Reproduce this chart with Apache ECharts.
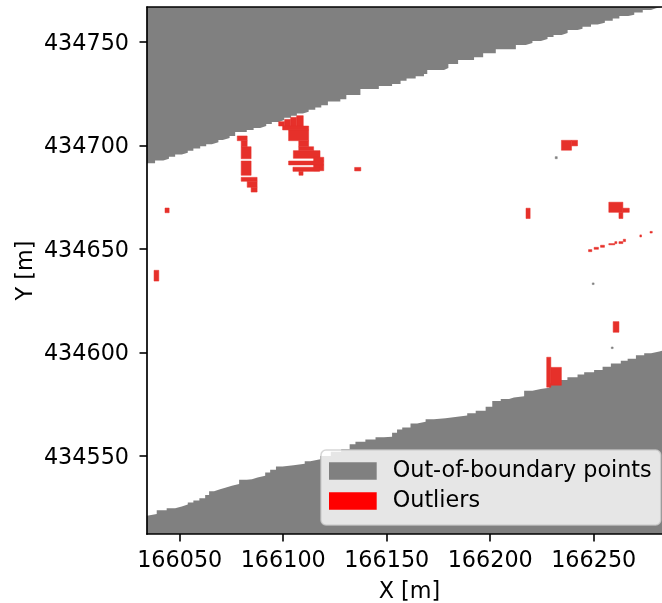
<!DOCTYPE html>
<html>
<head>
<meta charset="utf-8">
<style>html,body{margin:0;padding:0;background:#fff}#c{width:662px;height:603px}</style>
<script src="https://cdn.jsdelivr.net/npm/echarts@6/dist/echarts.min.js"></script>
</head>
<body>
<div id="c"></div>
<script>
const xTicks = [166050, 166100, 166150, 166200, 166250];
const yTicks = [434550, 434600, 434650, 434700, 434750];
const xRange = [166034.2, 166283];
const yRange = [434512.3, 434766.9];

// Edge of the upper out-of-boundary region [X, Y]
const upperEdge = [
[166034.2,434689.5],[166038.1,434691.4],[166042.1,434692.7],[166044.8,434693.6],[166047.8,434694.6],[166051,434695.6],
[166053.9,434696.5],[166056.6,434697.5],[166059.9,434698.6],[166062.8,434699.6],[166065.5,434700.6],[166068.7,434701.5],
[166070.8,434702.7],[166074.1,434703.6],[166076.8,434704.6],[166082.4,434706.5],[166085.7,434707.5],[166088.9,434708.5],
[166091.8,434709.4],[166094.5,434710.4],[166097.8,434711.4],[166100.5,434712.3],[166103.8,434713.4],[166106.6,434714.4],
[166109.5,434715.4],[166112.3,434716.3],[166115.5,434717.3],[166118.4,434718.3],[166121.6,434719.4],[166127.6,434721.3],
[166130.5,434722.3],[166137.3,434724.4],[166146.2,434727.3],[166152.6,434728.7],[166156.7,434729.7],[166159.6,434731.3],
[166164,434732.3],[166168,434733.4],[166169.6,434734.5],[166177.7,434736.5],[166179.8,434737.4],[166184.5,434739.4],
[166192.2,434741.3],[166196.6,434742.6],[166202.7,434744.5],[166212.4,434746.5],[166217.2,434748.6],[166220.4,434749.5],
[166224.5,434750.5],[166227.7,434751.4],[166230.6,434752.4],[166234.5,434753.4],[166237.4,434754.3],[166242.2,434755.8],
[166244.6,434756.4],[166248.7,434757.4],[166251.9,434758.4],[166255.4,434759.3],[166259.2,434760.3],[166262.4,434761.3],
[166266.7,434762.6],[166269.6,434763.2],[166273.7,434764.2],[166277.7,434765.5],[166280.1,434766.3],[166283,434766.9]
];

// Edge of the lower out-of-boundary region [X, Y]
const lowerEdge = [
[166034.2,434521.1],[166038.9,434522],[166043.7,434523.8],[166047.8,434524.8],[166051,434525.6],[166053.9,434526.5],
[166056.6,434527.5],[166059.5,434528.5],[166062.3,434529.6],[166064.2,434531.2],[166066.6,434533],[166069.5,434533.9],
[166072,434534.7],[166075.2,434535.6],[166078.7,434536.5],[166082.4,434538.5],[166084.9,434538.8],[166087.6,434539.6],
[166091.3,434540.5],[166093.7,434542],[166096.5,434543.3],[166099.7,434544.9],[166105,434545.5],[166110.4,434546.2],
[166113.1,434547.5],[166117.9,434548.4],[166123,434550],[166128,434552],[166132.1,434553.3],[166134.9,434555.6],
[166139.7,434556.9],[166144.6,434558],[166148.6,434559],[166152.6,434559.3],[166155,434561.2],[166157.5,434562.8],
[166161.5,434563.8],[166164.7,434565.7],[166168.8,434566.5],[166172.8,434567.7],[166178.4,434568.2],[166184.1,434569],
[166188.9,434569.6],[166193,434570.6],[166197.8,434571.9],[166201,434573.8],[166205.1,434576.5],[166209.1,434577.5],
[166211.5,434578.3],[166216.4,434578.9],[166220.4,434581.5],[166224.4,434582.3],[166228.5,434583],[166234.1,434585.1],
[166237.3,434586.7],[166242.2,434588],[166245.4,434589.4],[166250.2,434590.5],[166254.3,434591.5],[166258.3,434593.1],
[166263.1,434594.7],[166266.4,434596],[166270.4,434597],[166274.4,434598.6],[166277.7,434599.6],[166281.7,434600.5],[166283,434600.8]
];

// Isolated out-of-boundary cells [X0, X1, Y0, Y1]
const boundaryCells = [
[166231.4,166232.4,434693.6,434694.6],
[166249.3,166250.2,434632.8,434633.6],
[166258.5,166259.4,434601.85,434602.66]
];

// Outlier cells [X0, X1, Y0, Y1]
const outlierCells = [
[166077.8,166082.6,434702.3,434704.6],[166079.7,166082.6,434699.4,434702.3],[166079.7,166084.5,434693.6,434699.4],
[166079.7,166084.5,434685.6,434692.5],[166079.7,166087.4,434682.7,434684.6],[166082.6,166087.4,434679.8,434682.7],
[166084.5,166087.4,434677.5,434679.8],
[166106.5,166109.7,434709.4,434714.4],[166103.6,166106.5,434709.4,434713.6],[166100.7,166103.6,434709.4,434712.6],
[166097.8,166100.7,434709.4,434711.5],[166099.7,166112.3,434707.5,434709.4],[166102.6,166112.3,434702.3,434707.5],
[166107.5,166112.3,434699.4,434702.3],[166107.5,166114.7,434697.5,434699.4],[166104.9,166117.8,434693.8,434697.5],
[166114.7,166119.6,434692.5,434694.3],[166102.6,166119.6,434690.6,434692.5],[166114.7,166119.6,434687.8,434690.6],
[166104.7,166117.6,434687.5,434689.5],[166107.6,166109.6,434685.6,434687.5],[166134.5,166137.5,434687.7,434689.4],
[166042.9,166044.9,434667.5,434669.8],[166037.6,166039.9,434634.5,434639.7],
[166234.4,166239.3,434697.7,434702.5],[166239.3,166242.2,434699.8,434702.5],
[166217.3,166219.3,434664.7,434669.7],
[166257.3,166264.1,434667.7,434672.6],[166264.1,166267.2,434667.7,434669.7],[166262.2,166264.1,434664.7,434667.7],
[166247.5,166249.1,434648.7,434649.7],[166250.2,166252.3,434649.85,434650.8],[166253.3,166255.2,434650.8,434651.8],
[166257.3,166260.2,434652,434652.6],[166260.2,166261.2,434652.6,434653.55],[166262.2,166264.1,434652.6,434653.55],
[166264.3,166265.4,434653.55,434654.7],[166272.3,166273.1,434655.8,434656.8],[166277.2,166278.3,434657.7,434658.5],
[166259.4,166262.2,434609.75,434614.9],
[166227.3,166229.3,434583.2,434597.7],[166229.3,166234.4,434584.15,434592.8]
];

const boundaryName = 'Out-of-boundary points';
const outlierName = 'Outliers';
const GREY = '#808080', RED = '#e6302a', FONT = '"DejaVu Sans"';

const cellSeries = (name, data, color, z) => ({
  type: 'custom', name, data, z, silent: true, clip: true, itemStyle: {color},
  encode: {x: [0, 1], y: [2, 3]},
  renderItem: (p, api) => {
    const a = api.coord([api.value(0), api.value(3)]);
    const b = api.coord([api.value(1), api.value(2)]);
    return {type: 'rect', shape: {x: a[0], y: a[1], width: b[0] - a[0], height: b[1] - a[1]},
      style: {fill: color, stroke: color, lineWidth: 0.5}};
  }
});
const edgeSeries = (data, origin) => ({
  type: 'line', name: boundaryName, data, step: 'start', symbol: 'none', silent: true, z: 2,
  itemStyle: {color: GREY}, lineStyle: {width: 0, color: GREY},
  areaStyle: {color: GREY, opacity: 1, origin}
});
const spine = {show: true, onZero: false, lineStyle: {color: '#000', width: 1.7}};

const chart = echarts.init(document.getElementById('c'), null, {renderer: 'canvas'});
chart.setOption({
  animation: false,
  backgroundColor: '#fff',
  textStyle: {fontFamily: FONT},
  grid: {left: 147, right: 0, top: 7, bottom: 69, containLabel: false, outerBoundsMode: 'none'},
  xAxis: [{
    type: 'value', min: xRange[0], max: xRange[1], z: 10,
    name: 'X [m]', nameLocation: 'middle', nameGap: 47, nameMoveOverlap: false,
    nameTextStyle: {fontSize: 22.3, color: '#000', fontFamily: FONT, padding: [0, 0, 0, 10]},
    splitLine: {show: false}, axisLine: spine,
    axisTick: {show: true, length: 7.5, lineStyle: {color: '#000', width: 1.6}, customValues: xTicks},
    axisLabel: {show: true, fontSize: 22.3, color: '#000', fontFamily: FONT, margin: 16, customValues: xTicks, formatter: v => String(v)}
  }, {
    type: 'value', position: 'top', min: xRange[0], max: xRange[1], z: 10,
    splitLine: {show: false}, axisLine: spine, axisTick: {show: false}, axisLabel: {show: false}
  }],
  yAxis: {
    type: 'value', min: yRange[0], max: yRange[1], z: 10,
    name: 'Y [m]', nameLocation: 'middle', nameGap: 110, nameMoveOverlap: false,
    nameTextStyle: {fontSize: 22.3, color: '#000', fontFamily: FONT},
    splitLine: {show: false}, axisLine: spine,
    axisTick: {show: true, length: 7.5, lineStyle: {color: '#000', width: 1.6}, customValues: yTicks},
    axisLabel: {show: true, fontSize: 22.3, color: '#000', fontFamily: FONT, margin: 18, verticalAlign: 'top', lineHeight: 4, customValues: yTicks, formatter: v => String(v)}
  },
  legend: {
    show: true, orient: 'vertical', left: 321, top: 450,
    padding: [10, 9, 13, 8], itemWidth: 47.7, itemHeight: 17.3, itemGap: 8,
    backgroundColor: 'rgba(255,255,255,0.8)', borderColor: 'rgba(204,204,204,0.8)', borderWidth: 1.5, borderRadius: 5,
    selectedMode: false,
    textStyle: {fontSize: 22.3, color: '#000', fontFamily: FONT, lineHeight: 17, padding: [0, 0, 0, 11]},
    data: [
      {name: boundaryName, icon: 'rect', itemStyle: {color: GREY}},
      {name: outlierName, icon: 'rect', itemStyle: {color: '#ff0000'}}
    ]
  },
  series: [
    edgeSeries(upperEdge, 'end'),
    edgeSeries(lowerEdge, 'start'),
    cellSeries(boundaryName, boundaryCells, GREY, 3),
    cellSeries(outlierName, outlierCells, RED, 3)
  ]
});
</script>
</body>
</html>
